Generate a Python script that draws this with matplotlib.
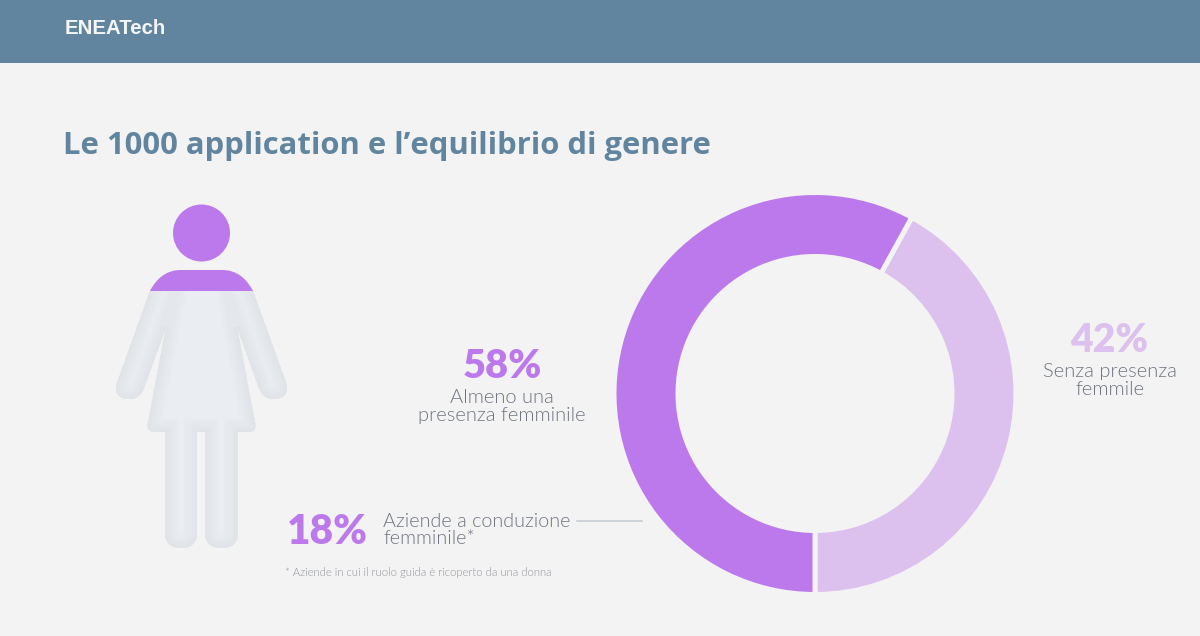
import matplotlib
matplotlib.use("Agg")
import matplotlib.pyplot as plt
from matplotlib.path import Path
from matplotlib.patches import PathPatch, Rectangle, Circle

labels = ["Almeno una\npresenza femminile", "Senza presenza\nfemmile"]
shares = [58, 42]
sub_share = 18
sub_label = "Aziende a conduzione\nfemminile*"
footnote = "* Aziende in cui il ruolo guida è ricoperto da una donna"
title = "Le 1000 application e l’equilibrio di genere"

BG = "#F3F3F3"
BAR = "#62859F"
PURPLE = "#BC79EC"
LILAC = "#DCC1EF"
TEXT = "#6F7480"

fig = plt.figure(figsize=(12, 6.36), dpi=100, facecolor=BG)
ax = fig.add_axes([0, 0, 1, 1])
ax.set_xlim(0, 1200)
ax.set_ylim(636, 0)
ax.axis("off")

# header band
ax.add_patch(Rectangle((0, 0), 1200, 63, color=BAR, lw=0))
ax.text(65, 28, "ENEATech", color="#F5F6F7", fontsize=14.7, fontweight="bold",
        family="Liberation Sans", va="center", ha="left")
ax.text(63, 154, title, color=BAR, fontsize=22.3, fontweight="bold",
        family="Open Sans", va="baseline", ha="left")

# donut, starts at the bottom and runs counter-clockwise
R = 201
pie_ax = fig.add_axes([(815 - R) / 1200, 1 - (393.5 + R) / 636, 2 * R / 1200, 2 * R / 636])
pie_ax.pie(shares[::-1], colors=[LILAC, PURPLE], startangle=270, counterclock=True,
           radius=1, wedgeprops=dict(width=64 / R, edgecolor=BG, linewidth=3.6))
pie_ax.set_xlim(-1, 1)
pie_ax.set_ylim(-1, 1)

# percentage labels
ax.text(502, 367, f"{shares[0]}%", color=PURPLE, fontsize=28.6, fontweight=800,
        family="Lato", ha="center", va="center")
ax.text(502, 406.5, labels[0], color=TEXT, fontsize=14.5, family="Lato", fontweight=300,
        ha="center", va="center", linespacing=1.05)
ax.text(1109, 341, f"{shares[1]}%", color=LILAC, fontsize=28.2, fontweight=800,
        family="Lato", ha="center", va="center")
ax.text(1110, 380.5, labels[1], color=TEXT, fontsize=14.5, family="Lato", fontweight=300,
        ha="center", va="center", linespacing=1.05)
ax.text(327, 532, f"{sub_share}%", color=PURPLE, fontsize=29.2, fontweight=800,
        family="Lato", ha="center", va="center")
ax.text(383, 530, sub_label, color=TEXT, fontsize=14.2, family="Lato", fontweight=300,
        ha="left", va="center", linespacing=1.05)
ax.plot([577, 642], [520.5, 520.5], color="#C3CAD1", lw=1.1)
ax.text(285, 572, footnote, color="#8E929A", fontsize=8.15, family="Lato", fontweight=300,
        ha="left", va="center")

# woman pictogram, traced clockwise from the top of the shoulders
M, L, C, Z = Path.MOVETO, Path.LINETO, Path.CURVE3, Path.CLOSEPOLY
segments = [
    (M, (201.5, 270)), (L, (222, 270)),
    (C, (242, 270)), (C, (253, 291)),
    (L, (286, 383)),
    (C, (290, 399)), (C, (273, 399)),
    (C, (263, 399)), (C, (259, 388)),
    (L, (237, 327)), (L, (255, 423)),
    (C, (257, 432)), (C, (248, 432)),
    (L, (238, 432)), (L, (238, 532)),
    (C, (238, 548)), (C, (221.5, 548)),
    (C, (205, 548)), (C, (205, 532)),
    (L, (205, 432)), (L, (197, 432)), (L, (197, 532)),
    (C, (197, 548)), (C, (181, 548)),
    (C, (165, 548)), (C, (165, 532)),
    (L, (165, 432)), (L, (155, 432)),
    (C, (146, 432)), (C, (148, 423)),
    (L, (166, 327)), (L, (144, 388)),
    (C, (140, 399)), (C, (130, 399)),
    (C, (113, 399)), (C, (117, 383)),
    (L, (150, 291)),
    (C, (161, 270)), (C, (181, 270)),
    (Z, (201.5, 270)),
]
body = Path([s[1] for s in segments], [s[0] for s in segments])

base = PathPatch(body, facecolor="#EAEDF1", edgecolor="none")
ax.add_patch(base)
# soft inner shading: thin strokes along the outline, clipped to the inside
for width in range(2, 22, 2):
    glow = PathPatch(body, facecolor="none", edgecolor="#D3DAE8", lw=width, alpha=0.035)
    ax.add_patch(glow)
    glow.set_clip_path(base)

upper = PathPatch(body, facecolor=PURPLE, edgecolor="none")
ax.add_patch(upper)
upper.set_clip_path(Rectangle((0, 0), 1200, 290.5, transform=ax.transData))
ax.add_patch(Circle((201.5, 233), 28.5, color=PURPLE, lw=0))

fig.savefig("out.png", dpi=100, facecolor=BG)
